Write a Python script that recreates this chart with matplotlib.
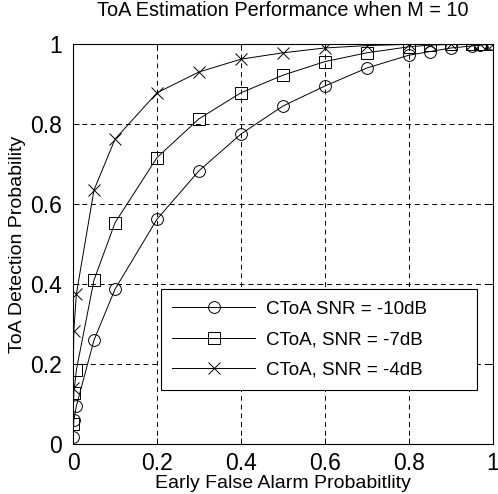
import matplotlib
matplotlib.use('Agg')
import matplotlib.pyplot as plt
import numpy as np

plt.rcParams['font.family'] = ['Liberation Sans', 'DejaVu Sans']

# early false alarm probability (x) and detection probability for each SNR
pfa = [0, 0.002, 0.008, 0.05, 0.1, 0.2, 0.3, 0.4, 0.5, 0.6, 0.7, 0.8, 0.85, 0.9, 0.95, 0.97, 1.0]
pd_m10 = [0.018, 0.06, 0.095, 0.26, 0.387, 0.562, 0.683, 0.775, 0.845, 0.895, 0.94, 0.972,
          0.981, 0.99, 0.995, 0.997, 1.0]
pd_m7 = [0.05, 0.127, 0.185, 0.41, 0.553, 0.716, 0.813, 0.878, 0.922, 0.956, 0.978, 0.993,
         0.997, 0.999, 1.0, 1.0, 1.0]
pd_m4 = [0.14, 0.283, 0.375, 0.635, 0.762, 0.878, 0.93, 0.962, 0.978, 0.99, 0.996, 0.999,
         1.0, 1.0, 1.0, 1.0, 1.0]
labels = ['CToA SNR = -10dB', 'CToA, SNR = -7dB', 'CToA, SNR = -4dB']

fig = plt.figure(figsize=(4.98, 4.94), dpi=100)
ax = fig.add_axes([0.1466, 0.1012, 0.8434, 0.8098])

ax.plot(pfa, pd_m10, 'k-', marker='o', mfc='none', ms=8.5, lw=0.7, mew=0.7, label=labels[0])
ax.plot(pfa, pd_m7, 'k-', marker='s', mfc='none', ms=9, lw=0.7, mew=0.7, label=labels[1])
ax.plot(pfa, pd_m4, 'k-', marker='x', ms=8.5, lw=0.7, mew=0.7, label=labels[2])

ax.set_xlim(0, 1)
ax.set_ylim(0, 1)
ticks = [0, 0.2, 0.4, 0.6, 0.8, 1]
ax.set_xticks(ticks)
ax.set_yticks(ticks)
ax.set_xticklabels(['0', '0.2', '0.4', '0.6', '0.8', '1'])
ax.set_yticklabels(['0', '0.2', '0.4', '0.6', '0.8', '1'])
ax.tick_params(direction='in', top=True, right=True, length=4, width=0.7, labelsize=16.5)
ax.tick_params(axis='x', pad=6)
ax.tick_params(axis='y', pad=8)
ax.grid(True, color='k', linestyle=(0, (5, 4)), linewidth=0.7)
for s in ax.spines.values():
    s.set_linewidth(0.8)

ax.set_title('ToA Estimation Performance when M = 10', fontsize=14.3, pad=20)
ax.set_xlabel('Early False Alarm Probabitlity', fontsize=14, labelpad=0)
ax.set_ylabel('ToA Detection Probability', fontsize=14, labelpad=3)

leg = ax.legend(loc='lower left', bbox_to_anchor=(0.21, 0.135, 0.752, 0.26), mode='expand',
                fontsize=13.5, handlelength=4.4, handletextpad=0.6, labelspacing=0.72,
                borderpad=0.6, fancybox=False, edgecolor='k', framealpha=1, borderaxespad=0)
leg.get_frame().set_linewidth(0.8)

fig.savefig('out.png', dpi=100)
